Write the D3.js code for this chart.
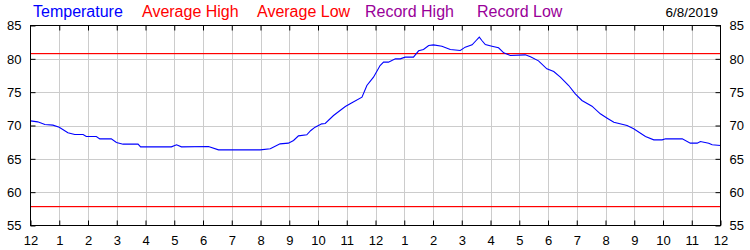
<!DOCTYPE html>
<html>
<head>
<meta charset="utf-8">
<script src="https://cdn.jsdelivr.net/npm/d3@7"></script>
<style>
  body { margin: 0; background: #fff; }
  svg text { font-family: "Liberation Sans", Arial, sans-serif; }
</style>
</head>
<body>
<svg id="chart" width="750" height="250"></svg>
<script>
// hours since midnight and temperature (F)
const hours = [0, 0.25, 0.5, 0.78, 1.0, 1.3, 1.54, 1.83, 1.94, 2.29, 2.41, 2.81, 2.99, 3.22, 3.74, 3.83,
  4.9, 5.08, 5.25, 6.19, 6.54, 7.99, 8.34, 8.68, 8.97, 9.15, 9.32, 9.61, 9.75, 9.9, 10.13, 10.25, 10.54,
  10.95, 11.18, 11.53, 11.7, 11.93, 12.16, 12.28, 12.45, 12.69, 12.86, 13.03, 13.32, 13.5, 13.67, 13.85,
  14.02, 14.31, 14.6, 14.95, 15.12, 15.36, 15.5, 15.61, 15.7, 15.82, 16.05, 16.28, 16.46, 16.69, 17.21,
  17.39, 17.67, 17.96, 18.2, 18.43, 18.72, 18.95, 19.18, 19.53, 19.82, 20.06, 20.29, 20.75, 20.98, 21.39,
  21.68, 21.97, 22.09, 22.67, 22.95, 23.19, 23.3, 23.59, 23.71, 24.0];
const temps = [70.7, 70.55, 70.15, 70.05, 69.75, 68.9, 68.65, 68.65, 68.35, 68.35, 68.0, 68.0, 67.45, 67.2, 67.2, 66.8,
  66.8, 67.1, 66.8, 66.85, 66.35, 66.35, 66.5, 67.25, 67.35, 67.75, 68.45, 68.6, 69.25, 69.75, 70.25, 70.3, 71.5,
  72.85, 73.4, 74.25, 76.0, 77.25, 79.0, 79.5, 79.5, 80.0, 80.0, 80.25, 80.25, 81.2, 81.4, 82.0,
  82.1, 81.9, 81.4, 81.25, 81.75, 82.1, 82.75, 83.25, 82.75, 82.15, 81.9, 81.65, 80.9, 80.5, 80.6,
  80.3, 79.7, 78.5, 78.1, 77.25, 76.0, 74.75, 73.75, 72.9, 71.75, 71.1, 70.5, 70.0, 69.5, 68.35,
  67.85, 67.85, 68.0, 68.0, 67.35, 67.35, 67.6, 67.35, 67.1, 67.0];
const avgHigh = 80.9;
const avgLow = 58;
const hourLabels = ["12","1","2","3","4","5","6","7","8","9","10","11","12","1","2","3","4","5","6","7","8","9","10","11","12"];
const yTicks = [55, 60, 65, 70, 75, 80, 85];
const legendItems = [
  {name: "Temperature", color: "#0000ff", x: 33},
  {name: "Average High", color: "#ff0000", x: 142},
  {name: "Average Low", color: "#ff0000", x: 257},
  {name: "Record High", color: "#990099", x: 365},
  {name: "Record Low", color: "#990099", x: 477}
];
const dateLabel = "6/8/2019";

const svg = d3.select("#chart");
const plotLeft = 30.5, plotRight = 720.5, plotTop = 25.5, plotBottom = 225.5;

const x = d3.scaleLinear().domain([0, 24]).range([plotLeft, plotRight]);
const y = d3.scaleLinear().domain([55, 85]).range([plotBottom, plotTop]);

// grid
const grid = svg.append("g").attr("stroke", "#cccccc").attr("stroke-width", 1);
grid.selectAll(".vg").data(d3.range(1, 24)).enter().append("line")
    .attr("x1", d => Math.round(x(d)) + 0.5).attr("x2", d => Math.round(x(d)) + 0.5)
    .attr("y1", plotTop).attr("y2", plotBottom);
grid.selectAll(".hg").data(yTicks.slice(1, -1)).enter().append("line")
    .attr("y1", d => Math.round(y(d)) + 0.5).attr("y2", d => Math.round(y(d)) + 0.5)
    .attr("x1", plotLeft).attr("x2", plotRight);

// average high / low lines, drawn as 1px filled bands
svg.selectAll(".avg").data([avgHigh, avgLow]).enter().append("rect")
    .attr("class", "avg")
    .attr("x", plotLeft).attr("width", plotRight - plotLeft)
    .attr("y", d => Math.round(y(d))).attr("height", 1.2)
    .attr("fill", "#ff0000");

// temperature line
const line = d3.line().x((d, i) => x(hours[i])).y(d => y(d));
svg.append("path").datum(temps)
    .attr("fill", "none").attr("stroke", "#0000ff").attr("stroke-width", 1.1)
    .attr("d", line);

// frame
svg.append("rect").attr("x", plotLeft).attr("y", plotTop)
    .attr("width", plotRight - plotLeft).attr("height", plotBottom - plotTop)
    .attr("fill", "none").attr("stroke", "#000");

// axes (ticks pointing inwards)
const xb = d3.axisBottom(x).tickValues(d3.range(0, 25)).tickSizeInner(-5).tickSizeOuter(0)
    .tickFormat((d, i) => hourLabels[i]).tickPadding(10);
const gxb = svg.append("g").attr("transform", `translate(0,${plotBottom})`).call(xb);
const gxt = svg.append("g").attr("transform", `translate(0,${plotTop})`)
    .call(d3.axisTop(x).tickValues(d3.range(1, 24)).tickSizeInner(-5).tickSizeOuter(0).tickFormat(""));
const gyl = svg.append("g").attr("transform", `translate(${plotLeft},0)`)
    .call(d3.axisLeft(y).tickValues(yTicks).tickSizeInner(-5).tickSizeOuter(0).tickPadding(9));
const gyr = svg.append("g").attr("transform", `translate(${plotRight},0)`)
    .call(d3.axisRight(y).tickValues(yTicks).tickSizeInner(-5).tickSizeOuter(0).tickPadding(9));

[gxb, gxt, gyl, gyr].forEach(g => {
  g.select(".domain").remove();
  g.selectAll("line").attr("stroke", "#000");
  g.selectAll("text").attr("fill", "#000").style("font-size", "13px")
      .style("font-family", "'Liberation Sans', Arial, sans-serif");
});

// legend
svg.selectAll(".legend").data(legendItems).enter().append("text")
    .attr("class", "legend")
    .attr("x", d => d.x).attr("y", 17)
    .attr("fill", d => d.color).style("font-size", "16px")
    .text(d => d.name);

svg.append("text").attr("x", 718).attr("y", 17).attr("text-anchor", "end")
    .style("font-size", "13.5px").attr("fill", "#000").text(dateLabel);
</script>
</body>
</html>
